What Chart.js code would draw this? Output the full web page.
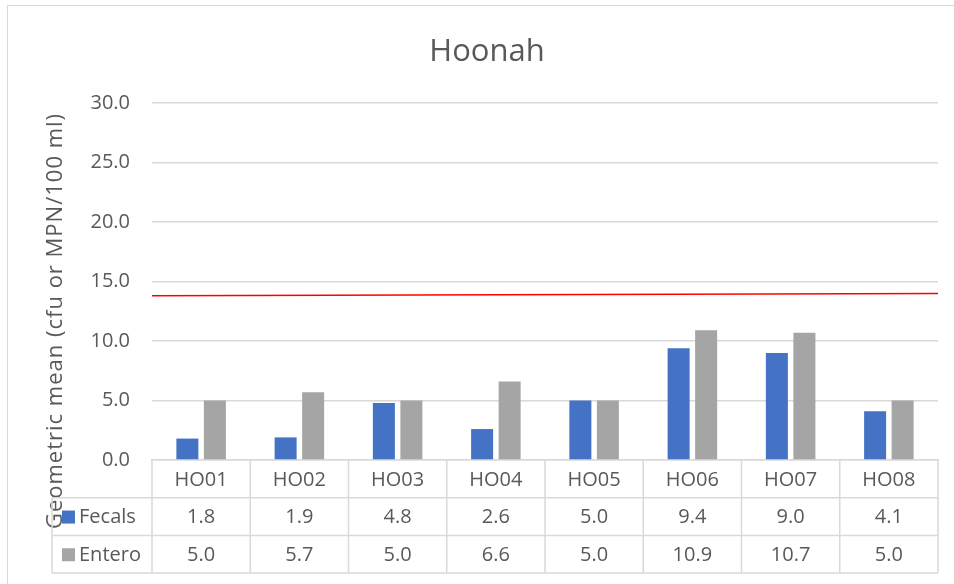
<!DOCTYPE html>
<html>
<head>
<meta charset="utf-8">
<script src="https://cdn.jsdelivr.net/npm/chart.js@4/dist/chart.umd.min.js"></script>
<style>
  html,body{margin:0;padding:0;background:#fff;}
  #wrap{width:954px;height:584px;position:relative;}
</style>
</head>
<body>
<div id="wrap"><canvas id="c" width="954" height="584"></canvas></div>
<script>
// data
const sites = ['HO01','HO02','HO03','HO04','HO05','HO06','HO07','HO08'];
const fecals = [1.8, 1.9, 4.8, 2.6, 5.0, 9.4, 9.0, 4.1];
const entero = [5.0, 5.7, 5.0, 6.6, 5.0, 10.9, 10.7, 5.0];
const limitLine = [{x:-0.5, y:13.8}, {x:7.5, y:14.0}];
const yTicks = [0, 5, 10, 15, 20, 25, 30];

const FONT = '"Open Sans", sans-serif';
const TXT = '#595959', GRID = '#d9d9d9';

// title, axis title, border and data table
const extras = {
	id:'extras',
	afterDraw(chart){
		const ctx = chart.ctx, x = chart.scales.x, a = chart.chartArea;
		ctx.save();
		// outer frame
		ctx.strokeStyle = GRID; ctx.lineWidth = 1;
		ctx.strokeRect(7.5, 5.5, 980, 600);
		// title
		ctx.fillStyle = TXT; ctx.textAlign = 'center'; ctx.textBaseline = 'alphabetic';
		ctx.font = '31px ' + FONT;
		ctx.fillText('Hoonah', 487, 61);
		// y axis title
		ctx.save();
		ctx.translate(62, 321); ctx.rotate(-Math.PI/2);
		ctx.font = '22px ' + FONT;
		ctx.letterSpacing = '1px';
		ctx.fillText('Geometric mean (cfu or MPN/100 ml)', 0, 0);
		ctx.restore();
		// table
		const rowH = 37.7, top = a.bottom, keyL = 52;
		ctx.strokeStyle = GRID; ctx.lineWidth = 1.5;
		ctx.beginPath();
		for(let r=1;r<=3;r++){
			const yy = top + r*rowH;
			ctx.moveTo(keyL, yy); ctx.lineTo(x.right, yy);
		}
		for(let i=0;i<=sites.length;i++){
			const xx = x.getPixelForValue(i - 0.5);
			ctx.moveTo(xx, top); ctx.lineTo(xx, top + 3*rowH);
		}
		ctx.moveTo(keyL, top+rowH); ctx.lineTo(keyL, top+3*rowH);
		ctx.stroke();
		ctx.font = '20px ' + FONT; ctx.fillStyle = TXT; ctx.textBaseline = 'middle';
		sites.forEach((s,i)=>{
			const cx = x.getPixelForValue(i);
			ctx.fillText(s, cx, top + rowH*0.5 + 1);
			ctx.fillText(fecals[i].toFixed(1), cx, top + rowH*1.5 + 1);
			ctx.fillText(entero[i].toFixed(1), cx, top + rowH*2.5 + 1);
		});
		const rows = [['Fecals','#4472C4'],['Entero','#A5A5A5']];
		rows.forEach((r,k)=>{
			const cy = top + rowH*(1.5+k);
			ctx.fillStyle = r[1]; ctx.fillRect(62, cy-6, 13, 13);
			ctx.fillStyle = TXT; ctx.textAlign = 'left';
			ctx.fillText(r[0], 79, cy + 1);
		});
		ctx.restore();
	}
};

new Chart(document.getElementById('c'), {
	type:'bar',
	data:{
		datasets:[
			{label:'Fecals', data:fecals.map((v,i)=>({x:i, y:v})), backgroundColor:'#4472C4', categoryPercentage:0.56, barPercentage:0.8},
			{label:'Entero', data:entero.map((v,i)=>({x:i, y:v})), backgroundColor:'#A5A5A5', categoryPercentage:0.56, barPercentage:0.8},
			{type:'line', label:'limit', data:limitLine, borderColor:'#FF0000', borderWidth:1.5, pointRadius:0, fill:false}
		]
	},
	options:{
		responsive:false, animation:false,
		layout:{padding:{left:0, top:103, right:16, bottom:0}},
		plugins:{legend:{display:false}, tooltip:{enabled:false}, title:{display:false}},
		scales:{
			x:{
				type:'linear', min:-0.5, max:7.5, offset:false,
				afterBuildTicks(s){ s.ticks = sites.map((_,i)=>({value:i})); },
				grid:{display:false, offset:false},
				border:{color:GRID, width:1.5},
				ticks:{display:false},
				afterFit(s){ s.height = 124; }
			},
			y:{
				min:0, max:30,
				afterBuildTicks(s){ s.ticks = yTicks.map(v=>({value:v})); },
				grid:{color:GRID, lineWidth:1.5, drawTicks:false},
				border:{display:false},
				ticks:{color:TXT, padding:22, font:{family:FONT, size:20}, callback:v=>v.toFixed(1)},
				afterFit(s){ s.width = 152; }
			}
		}
	},
	plugins:[extras]
});
</script>
</body>
</html>
